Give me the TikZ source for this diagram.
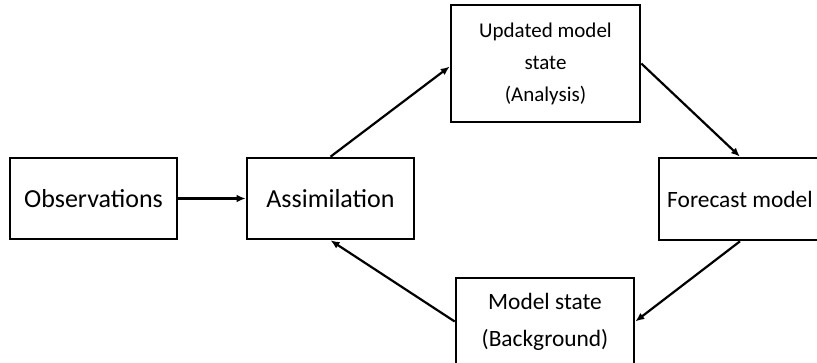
\documentclass[tikz,border=0pt]{standalone}
\usepackage{fontspec}
\setmainfont{Carlito}
\usetikzlibrary{arrows.meta}
\begin{document}
\begin{tikzpicture}[x=1pt,y=-1pt,
  box/.style={draw=black, line width=2.6pt, fill=white, align=center, inner sep=0pt},
  conn/.style={line width=2.2pt, -{Latex[length=9pt,width=7.5pt]}}]
\useasboundingbox (0,0) rectangle (817,362);
\clip (0,0) rectangle (817,362);
\node[box, minimum width=167pt, minimum height=81pt, font=\fontsize{26}{31}\selectfont] (obs) at (93.5,198.5) {Observations};
\node[box, minimum width=167pt, minimum height=81pt, font=\fontsize{26}{31}\selectfont] (assim) at (330.5,198.5) {Assimilation};
\node[box, minimum width=189pt, minimum height=117pt, font=\fontsize{21}{32}\selectfont] (upd) at (545.5,63.5) {Updated model\\state\\(Analysis)};
\node[box, minimum width=162pt, minimum height=82pt, font=\fontsize{23.4}{28}\selectfont] (fc) at (740,199) {Forecast model};
\node[box, minimum width=178pt, minimum height=87pt, font=\fontsize{23.4}{37}\selectfont] (ms) at (545,321.5) {Model state\\(Background)};
\draw[conn] (obs.east) -- (assim.west);
\draw[conn] (assim.north) -- ([yshift=-3pt]upd.west);
\draw[conn] (upd.east) -- (fc.north);
\draw[conn] (fc.south) -- (ms.east);
\draw[conn] (ms.west) -- (assim.south);
\end{tikzpicture}
\end{document}
